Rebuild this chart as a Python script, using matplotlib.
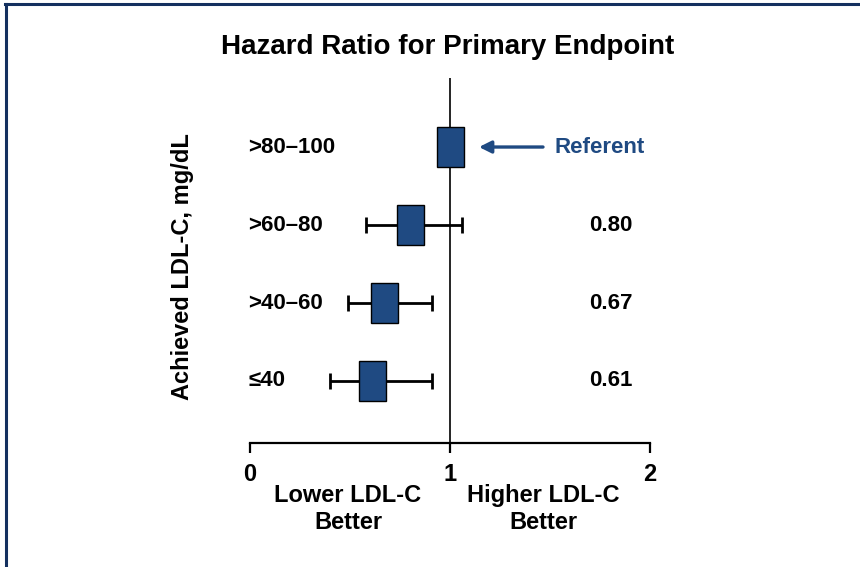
import numpy as np
import matplotlib.pyplot as plt
from matplotlib.lines import Line2D
from matplotlib.patches import Rectangle
plt.style.use('default')
plt.rcParams['font.family'] = ['Liberation Sans', 'DejaVu Sans']
plt.rcParams['font.weight'] = 'bold'


### DATA ###
groups = ['>80\u2013100', '>60\u201380', '>40\u201360', '\u226440']
hr = [1.00, 0.80, 0.67, 0.61]
ci_low = [np.nan, 0.58, 0.49, 0.40]
ci_high = [np.nan, 1.06, 0.91, 0.91]
hr_text = ['', '0.80', '0.67', '0.61']
xticks = [0, 1, 2]

navy = '#1f4a82'
ypos = np.arange(len(groups), 0, -1)   # top row first

### FIGURE ###
fig = plt.figure(figsize=(8.6, 5.67), dpi=100)
ax = fig.add_axes([250/860, 124/567, 400/860, 365/567])
ax.set_xlim(0, 2)
ax.set_ylim(0.205, 4.885)

for s in ['left', 'top', 'right']:
    ax.spines[s].set_visible(False)
ax.spines['bottom'].set_linewidth(1.6)
ax.set_yticks([])
ax.set_xticks(xticks)
ax.set_xticklabels([str(t) for t in xticks], fontsize=17, fontweight='bold')
ax.tick_params(axis='x', direction='out', length=7.5, width=1.6, pad=7)

# reference line at HR = 1
ax.axvline(1, color='black', linewidth=1.2, zorder=1)

# confidence intervals
err_lo = np.array(hr) - np.array(ci_low)
err_hi = np.array(ci_high) - np.array(hr)
ax.errorbar(hr[1:], ypos[1:],
            xerr=[err_lo[1:], err_hi[1:]],
            fmt='none',
            ecolor='black',
            elinewidth=2,
            capsize=5.6,
            capthick=2,
            zorder=2)

# hazard ratio boxes
box_w = 0.135
box_h = 0.513
for x, y in zip(hr, ypos):
    ax.add_patch(Rectangle((x - box_w/2, y - box_h/2), box_w, box_h,
                           facecolor=navy, edgecolor='black',
                           linewidth=1, zorder=3))

# row labels and HR values
for lab, txt, y in zip(groups, hr_text, ypos):
    ax.text(-0.01, y, lab, ha='left', va='center', fontsize=16,
            fontweight='bold')
    ax.text(1.805, y, txt, ha='center', va='center', fontsize=16,
            fontweight='bold')

# referent arrow
ax.annotate('', xy=(1.145, ypos[0]), xytext=(1.465, ypos[0]),
            arrowprops=dict(arrowstyle='-|>', color=navy, lw=2.4,
                            mutation_scale=18, shrinkA=0, shrinkB=0))
ax.text(1.525, ypos[0], 'Referent', ha='left', va='center',
        fontsize=16, fontweight='bold', color=navy)

### TEXTS ###
fig.text(447.5/860, 1 - 47/567, 'Hazard Ratio for Primary Endpoint',
         ha='center', va='center', fontsize=20, fontweight='bold')
fig.text(183/860, 1 - 267/567, 'Achieved LDL-C, mg/dL', rotation=90,
         ha='center', va='center', fontsize=17, fontweight='bold')
fig.text(348/860, 1 - 509/567, 'Lower LDL-C\nBetter', ha='center',
         va='center', fontsize=17, fontweight='bold', linespacing=1.2)
fig.text(543/860, 1 - 509/567, 'Higher LDL-C\nBetter', ha='center',
         va='center', fontsize=17, fontweight='bold', linespacing=1.2)

### FRAME ###
fig.add_artist(Line2D([5/860, 1], [1 - 4/567, 1 - 4/567],
                      color='#14305f', linewidth=2.2))
fig.add_artist(Line2D([6/860, 6/860], [0, 1 - 4/567],
                      color='#14305f', linewidth=2.2))

plt.savefig('out.png', dpi=100)
